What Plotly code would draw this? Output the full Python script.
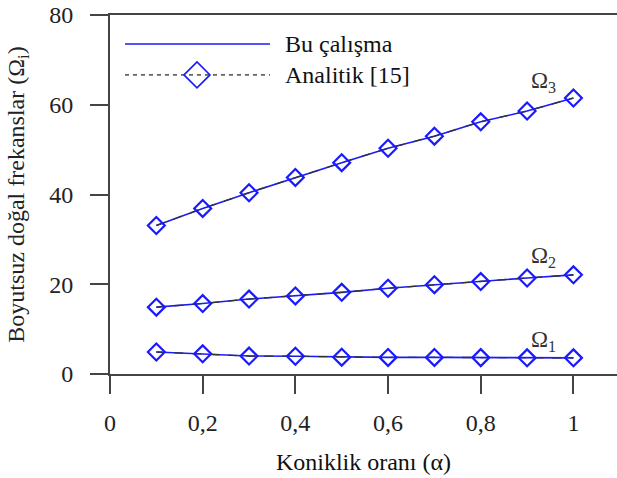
import plotly.graph_objects as go

alpha = [0.1, 0.2, 0.3, 0.4, 0.5, 0.6, 0.7, 0.8, 0.9, 1.0]
omega1 = [4.9, 4.5, 4.0, 3.95, 3.75, 3.7, 3.7, 3.65, 3.6, 3.6]
omega2 = [14.9, 15.7, 16.7, 17.4, 18.2, 19.1, 19.9, 20.6, 21.4, 22.1]
omega3 = [33.1, 36.9, 40.4, 43.8, 47.1, 50.3, 53.0, 56.2, 58.6, 61.5]
series = {"Ω<sub>1</sub>": omega1, "Ω<sub>2</sub>": omega2, "Ω<sub>3</sub>": omega3}

x_ticks = [0, 0.2, 0.4, 0.6, 0.8, 1]
x_labels = ["0", "0,2", "0,4", "0,6", "0,8", "1"]
y_ticks = [0, 20, 40, 60, 80]

BLUE = "#1a1aff"
FONT = "Liberation Serif, Times New Roman, DejaVu Serif, serif"

fig = go.Figure()
for name, vals in series.items():
    fig.add_trace(go.Scatter(x=alpha, y=vals, mode="lines",
                             line=dict(color=BLUE, width=1.6), showlegend=False))
    fig.add_trace(go.Scatter(x=alpha, y=vals, mode="lines+markers",
                             line=dict(color="#333333", width=1.3, dash="dash"),
                             marker=dict(symbol="diamond-open", size=13, color=BLUE,
                                         line=dict(color=BLUE, width=2.2)),
                             showlegend=False))

# label positions (data coords)
labels = [("Ω<sub>3</sub>", 0.935, 65.0), ("Ω<sub>2</sub>", 0.935, 26.0), ("Ω<sub>1</sub>", 0.935, 7.4)]
for txt, lx, ly in labels:
    fig.add_annotation(x=lx, y=ly, text=txt, showarrow=False, xref="x", yref="y",
                       font=dict(family=FONT, size=23, color="#333333"))

# manual legend in paper coords (plot area: x 110..617, y 15..374.5 px)
def px(x):
    return (x - 110) / 507.0

def py(y):
    return (374.5 - y) / 359.5

fig.add_shape(type="line", xref="paper", yref="paper", x0=px(125), x1=px(270),
              y0=py(44), y1=py(44), line=dict(color=BLUE, width=1.6))
fig.add_shape(type="line", xref="paper", yref="paper", x0=px(125), x1=px(270),
              y0=py(75), y1=py(75), line=dict(color="#666666", width=1.6, dash="4px,4px"))
cx, cy, h = 197, 75, 13
fig.add_shape(type="path", xref="paper", yref="paper",
              path=f"M {px(cx-h)},{py(cy)} L {px(cx)},{py(cy-h)} L {px(cx+h)},{py(cy)} L {px(cx)},{py(cy+h)} Z",
              line=dict(color=BLUE, width=1.6), fillcolor="rgba(0,0,0,0)")
fig.add_annotation(xref="paper", yref="paper", x=px(283), y=py(44), text="Bu çalışma",
                   showarrow=False, xanchor="left", yanchor="middle",
                   font=dict(family=FONT, size=24, color="#111111"))
fig.add_annotation(xref="paper", yref="paper", x=px(283), y=py(75), text="Analitik [15]",
                   showarrow=False, xanchor="left", yanchor="middle",
                   font=dict(family=FONT, size=24, color="#111111"))

axis_common = dict(showgrid=False, zeroline=False, showline=True, linecolor="#444444",
                   linewidth=2, ticks="outside", ticklen=18, tickwidth=2, tickcolor="#444444",
                   tickfont=dict(family=FONT, size=24, color="#222222"))

fig.update_xaxes(range=[0, 1.094], tickvals=x_ticks, ticktext=x_labels, mirror=True,
                 ticklabelstandoff=8,
                 title=dict(text="Koniklik oranı (α)", font=dict(family=FONT, size=24, color="#111111"),
                            standoff=18),
                 **axis_common)
fig.update_yaxes(range=[0, 80], tickvals=y_ticks, ticklabelstandoff=12,
                 title=dict(text="Boyutsuz doğal frekanslar (Ω<sub>i</sub>)",
                            font=dict(family=FONT, size=24, color="#222222"), standoff=18),
                 **axis_common)

fig.update_layout(width=617, height=478, margin=dict(l=110, r=0, t=15, b=103.5),
                  plot_bgcolor="white", paper_bgcolor="white",
                  font=dict(family=FONT))

fig.write_html("out.html")
